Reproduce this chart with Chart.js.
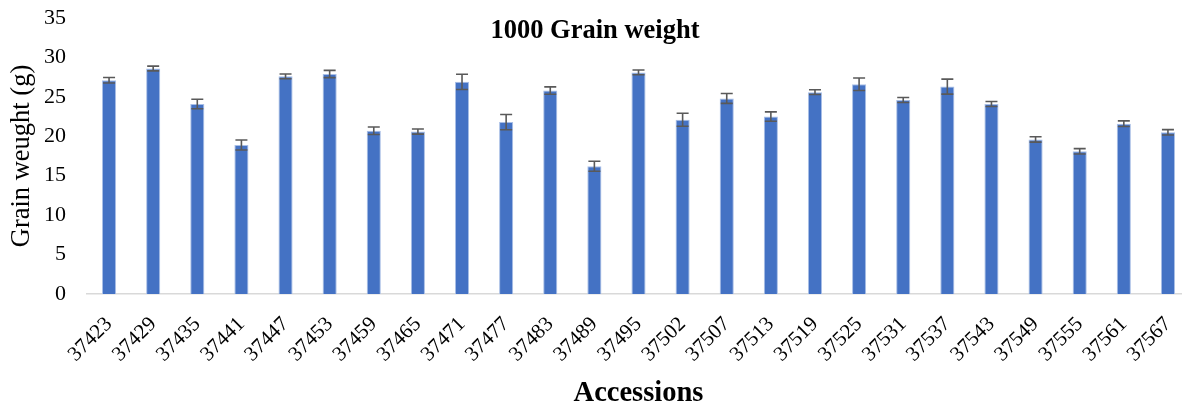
<!DOCTYPE html>
<html>
<head>
<meta charset="utf-8">
<script src="https://cdn.jsdelivr.net/npm/chart.js@4/dist/chart.umd.min.js"></script>
<style>
  html, body { margin: 0; padding: 0; background: #fff; overflow: hidden; }
  #chart { display: block; }
</style>
</head>
<body>
<canvas id="chart" width="1190" height="411"></canvas>
<script>
// accessions and mean 1000 grain weight (g), with error bar half-widths
var accessions = ['37423', '37429', '37435', '37441', '37447', '37453', '37459', '37465', '37471', '37477',
  '37483', '37489', '37495', '37502', '37507', '37513', '37519', '37525', '37531', '37537',
  '37543', '37549', '37555', '37561', '37567'];
var grainWeight = [27.1, 28.6, 24.1, 18.9, 27.6, 27.9, 20.7, 20.6, 26.9, 21.8,
  25.8, 16.2, 28.1, 22.1, 24.8, 22.5, 25.6, 26.6, 24.6, 26.3,
  24.1, 19.6, 18.1, 21.6, 20.5];
var grainError = [0.35, 0.3, 0.6, 0.63, 0.3, 0.46, 0.47, 0.32, 0.97, 0.97,
  0.46, 0.63, 0.3, 0.82, 0.63, 0.6, 0.3, 0.8, 0.32, 0.95,
  0.32, 0.34, 0.34, 0.36, 0.34];
var yTicks = [0, 5, 10, 15, 20, 25, 30, 35];

var serif = "'Liberation Serif', 'Times New Roman', serif";

// draws the little I-shaped error bars on top of each column
var errorBars = {
  id: 'errorBars',
  afterDatasetsDraw: function (chart) {
    var ctx = chart.ctx;
    var meta = chart.getDatasetMeta(0);
    var y = chart.scales.y;
    ctx.save();
    ctx.strokeStyle = '#595959';
    ctx.lineWidth = 1.6;
    meta.data.forEach(function (bar, i) {
      var top = y.getPixelForValue(grainWeight[i] + grainError[i]);
      var bot = y.getPixelForValue(grainWeight[i] - grainError[i]);
      ctx.beginPath();
      ctx.moveTo(bar.x, top); ctx.lineTo(bar.x, bot);
      ctx.moveTo(bar.x - 6, top); ctx.lineTo(bar.x + 6, top);
      ctx.moveTo(bar.x - 6, bot); ctx.lineTo(bar.x + 6, bot);
      ctx.stroke();
    });
    ctx.restore();
  }
};

// excel puts the title over the plot, so draw it by hand
var overTitle = {
  id: 'overTitle',
  afterDraw: function (chart) {
    var ctx = chart.ctx;
    ctx.save();
    ctx.font = 'bold 26.5px ' + serif;
    ctx.fillStyle = '#000';
    ctx.textAlign = 'center';
    ctx.textBaseline = 'middle';
    ctx.fillText('1000 Grain weight', 595, 31);
    ctx.restore();
  }
};

new Chart(document.getElementById('chart'), {
  type: 'bar',
  data: {
    labels: accessions,
    datasets: [{
      data: grainWeight,
      backgroundColor: '#4472C4',
      borderColor: '#a9bfe6',
      borderWidth: 1,
      barPercentage: 0.32,
      categoryPercentage: 1
    }]
  },
  options: {
    responsive: false,
    animation: false,
    layout: { padding: { top: 18, left: 2, right: 0, bottom: 0 } },
    plugins: {
      legend: { display: false },
      tooltip: { enabled: false }
    },
    scales: {
      x: {
        grid: { display: false, drawTicks: false },
        border: { display: true, color: '#d9d9d9', width: 1.5 },
        afterFit: function (scale) {
          scale.paddingLeft = 0;
          scale.paddingRight = 0;
          scale.height = 117;
        },
        ticks: {
          color: '#000',
          font: { family: serif, size: 21 },
          minRotation: 45,
          maxRotation: 45,
          padding: 18
        },
        title: {
          display: true,
          text: 'Accessions',
          color: '#000',
          font: { family: serif, size: 28.5, weight: 'bold' },
          padding: { top: 0, bottom: 0 }
        }
      },
      y: {
        min: 0,
        max: 35,
        grid: { display: false, drawTicks: false },
        border: { display: false },
        afterBuildTicks: function (axis) {
          axis.ticks = yTicks.map(function (v) { return { value: v }; });
        },
        afterFit: function (scale) {
          scale.paddingTop = 0;
          scale.paddingBottom = 0;
          scale.width = 85;
        },
        ticks: {
          color: '#000',
          font: { family: serif, size: 22 },
          padding: 21
        },
        title: {
          display: true,
          text: 'Grain weught (g)',
          color: '#000',
          font: { family: serif, size: 26.5 },
          padding: { top: 4, bottom: 0 }
        }
      }
    }
  },
  plugins: [errorBars, overTitle]
});
</script>
</body>
</html>
